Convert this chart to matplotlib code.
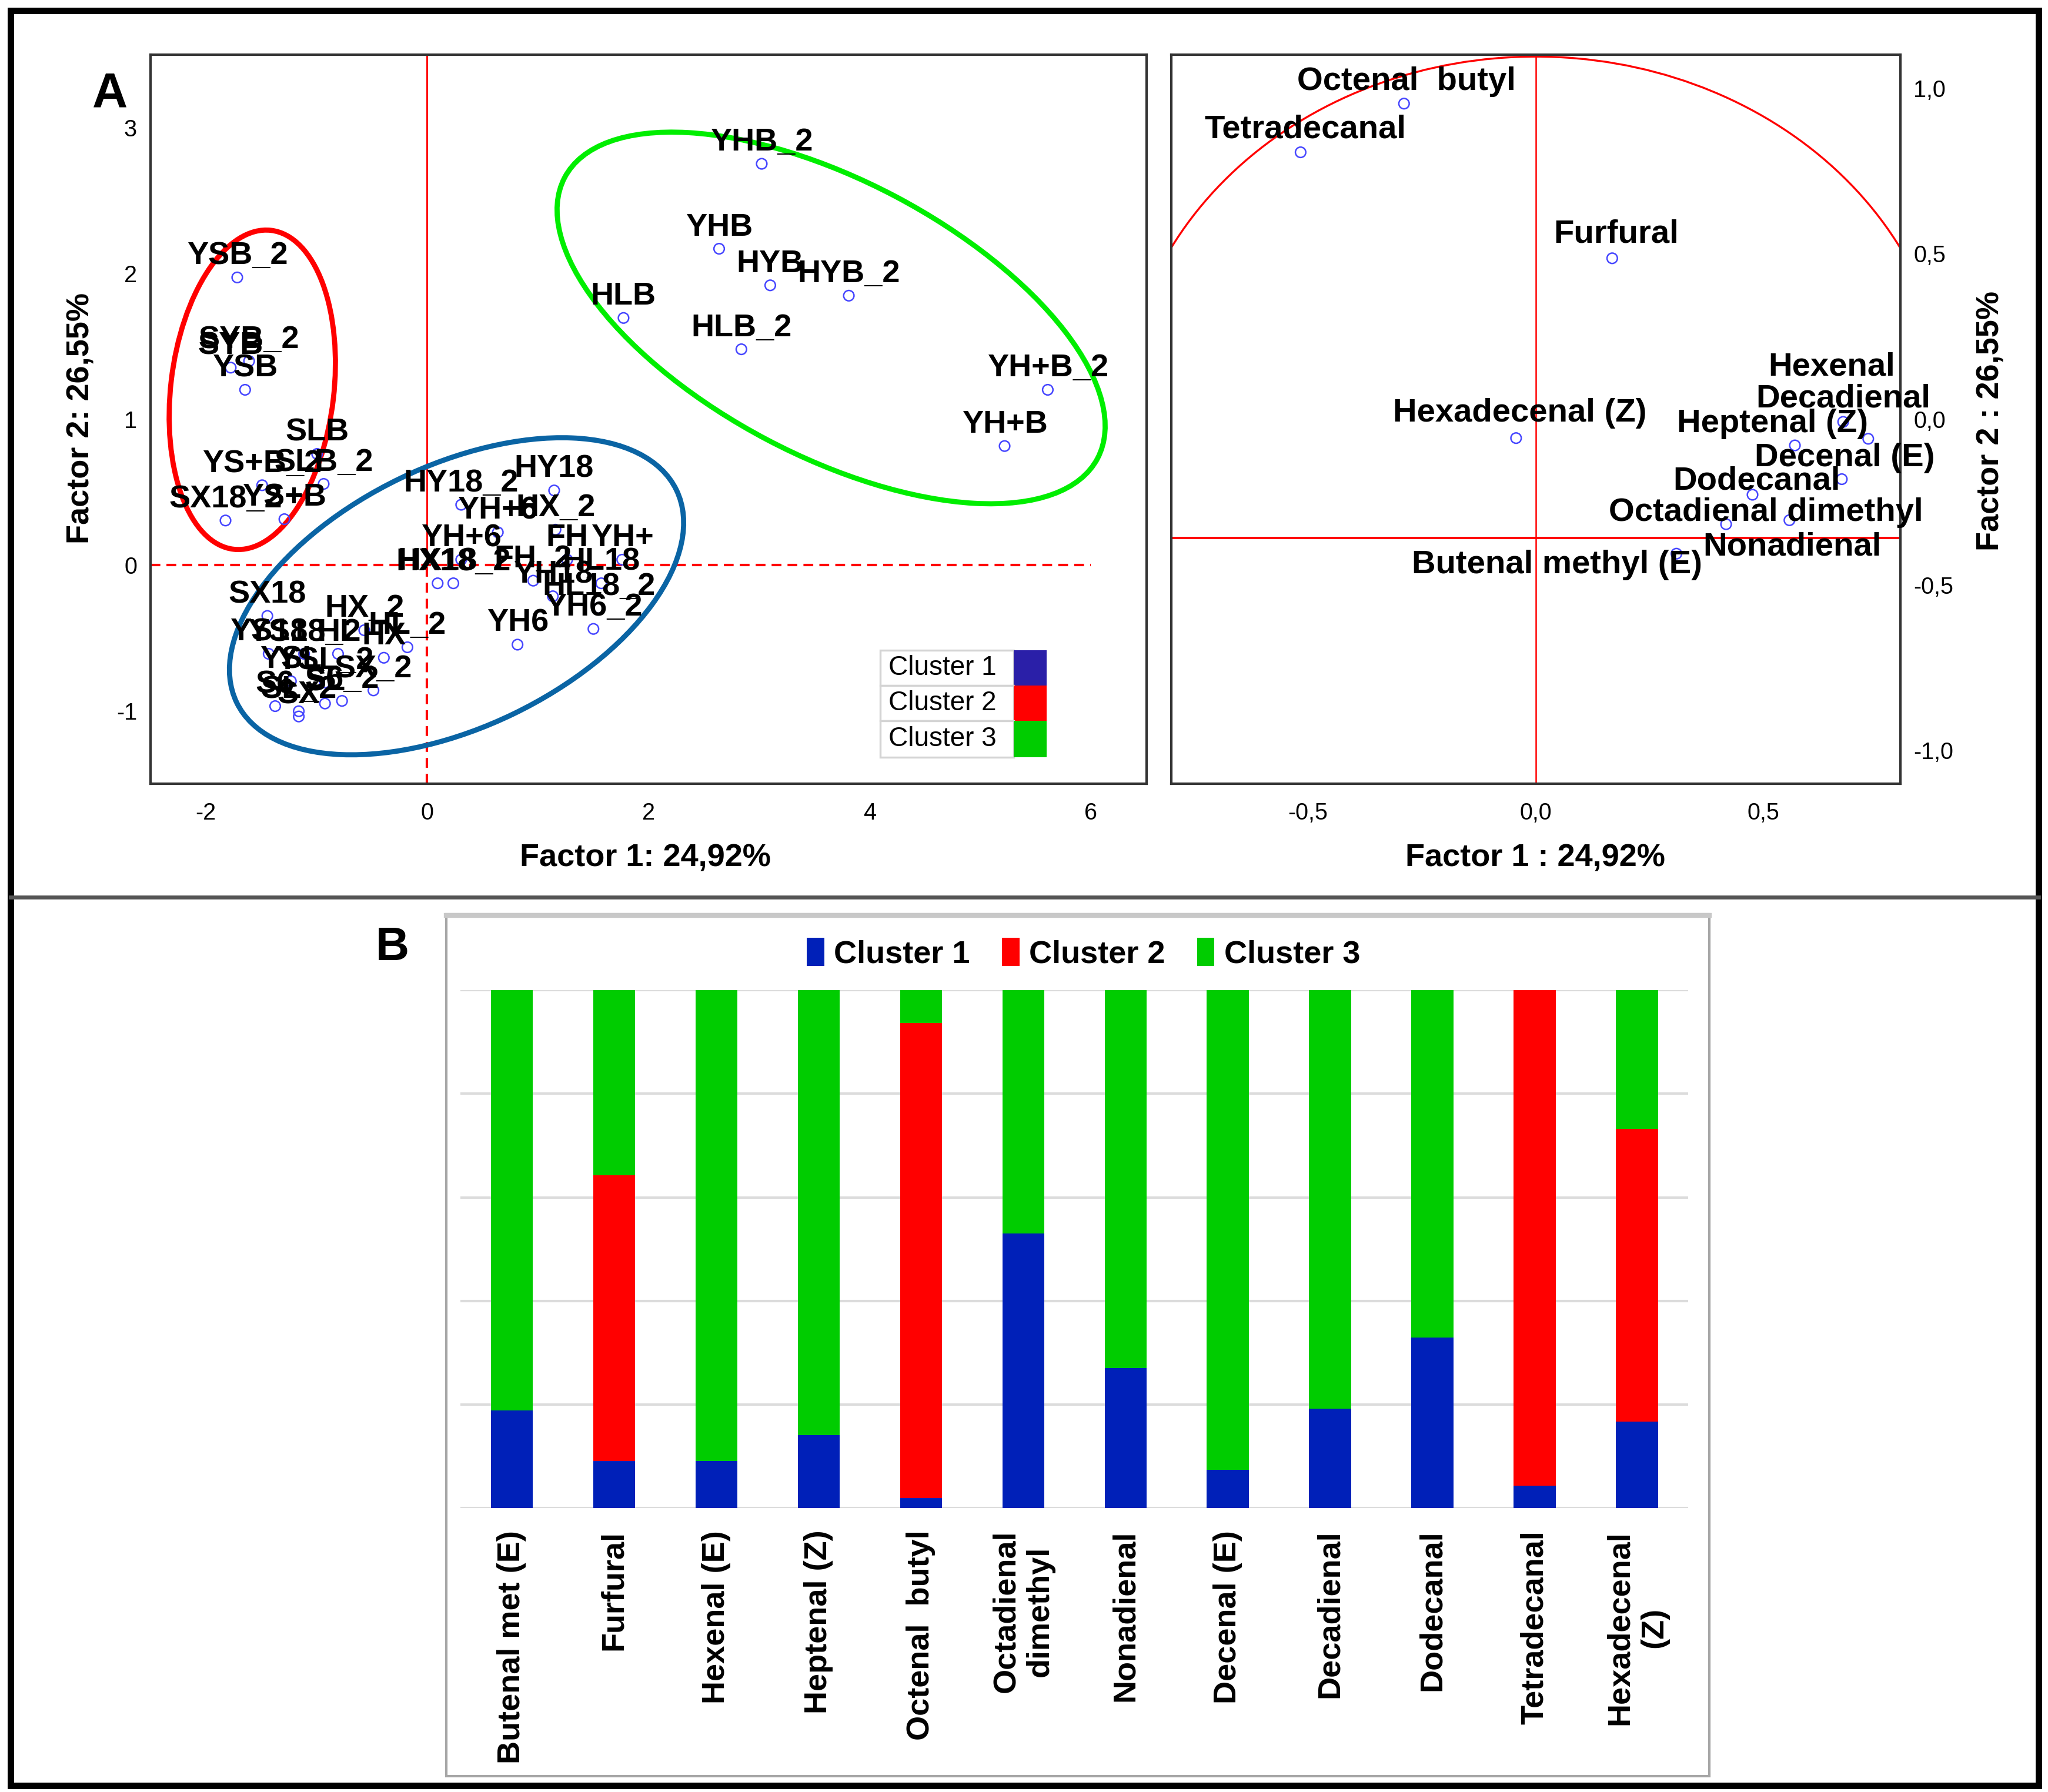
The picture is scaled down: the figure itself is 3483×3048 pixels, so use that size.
import numpy as np
import matplotlib
matplotlib.use("Agg")
import matplotlib.pyplot as plt
from matplotlib.patches import Ellipse, Rectangle, Patch, Arc
from matplotlib.transforms import Affine2D
from matplotlib.lines import Line2D

plt.rcParams['font.family'] = ['Liberation Sans', 'DejaVu Sans']
plt.rcParams['axes.unicode_minus'] = False

# ---------------- data: sample scores (panel A, left) ----------------
sample_labels = ["YHB_2", "YHB", "HYB", "HYB_2", "HLB", "HLB_2", "YH+B_2", "YH+B",
                 "YSB_2", "SYB", "SYB_2", "YSB", "SLB", "SLB_2", "YS+B_2", "SX18_2", "YS+B",
                 "HY18_2", "HY18", "YH+6", "HX_2", "YH+6", "FH", "YH+", "HX18", "HX18_2",
                 "FH_2", "HL18", "YH18", "HL18_2", "YH6_2", "YH6",
                 "SX18", "HX_2", "HL_2", "HX", "YS18", "YS18_2", "HL", "YSL", "YSL_2",
                 "SX_2", "S6", "S6_2", "SL", "SL_2", "SX"]
sample_f1 = [3.024, 2.639, 3.101, 3.811, 1.775, 2.840, 5.609, 5.219,
             -1.716, -1.775, -1.609, -1.645, -0.994, -0.935, -1.491, -1.822, -1.290,
             0.308, 1.148, 0.639, 1.160, 0.308, 1.266, 1.763, 0.095, 0.237,
             0.959, 1.574, 1.136, 1.550, 1.503, 0.817,
             -1.444, -0.568, -0.178, -0.391, -1.432, -1.112, -0.805, -1.231, -0.923,
             -0.485, -1.373, -0.769, -0.923, -1.160, -1.160]
sample_f2 = [2.753, 2.170, 1.919, 1.848, 1.695, 1.480, 1.202, 0.816,
             1.973, 1.354, 1.399, 1.202, 0.762, 0.556, 0.547, 0.305, 0.314,
             0.413, 0.511, 0.224, 0.242, 0.036, 0.036, 0.036, -0.126, -0.126,
             -0.108, -0.126, -0.215, -0.296, -0.439, -0.547,
             -0.350, -0.448, -0.565, -0.637, -0.610, -0.610, -0.610, -0.798, -0.807,
             -0.861, -0.969, -0.933, -0.951, -1.004, -1.040]

# ---------------- data: variable loadings (panel A, right) ----------------
var_labels = ["Octenal  butyl", "Tetradecanal", "Furfural", "Hexadecenal (Z)", "Hexenal",
              "Decadienal", "Heptenal (Z)", "Decenal (E)", "Dodecanal",
              "Octadienal dimethyl", "Nonadienal", "Butenal methyl (E)"]
var_f1 = [-0.289, -0.516, 0.168, -0.043, 0.730, 0.675, 0.569, 0.672, 0.476, 0.557, 0.418, 0.309]
var_f2 = [0.953, 0.806, 0.486, -0.057, -0.059, -0.008, -0.079, -0.181, -0.228, -0.305, -0.317, -0.406]
# label offsets (points) of each loading label centre from its point
var_label_dx = [1.1, 1.8, 1.7, 1.6, -15.0, 0.0, -9.1, 1.1, 1.8, -9.5, 27.0, -48.8]
var_label_dy = [10.3, 10.6, 11.2, 11.5, 30.7, 10.7, 10.1, 10.1, 6.9, 4.5, -8.0, -3.2]

# ---------------- data: cluster composition (panel B) ----------------
compounds = ["Butenal met (E)", "Furfural", "Hexenal (E)", "Heptenal (Z)", "Octenal  butyl",
             "Octadienal\ndimethyl", "Nonadienal", "Decenal (E)", "Decadienal", "Dodecanal",
             "Tetradecanal", "Hexadecenal\n(Z)"]
cluster1_pct = [18.9, 9.1, 9.1, 14.1, 1.9, 53.0, 27.0, 7.4, 19.2, 32.9, 4.3, 16.7]
cluster2_pct = [0.0, 55.2, 0.0, 0.0, 91.8, 0.0, 0.0, 0.0, 0.0, 0.0, 95.7, 56.5]
cluster3_pct = [81.1, 35.7, 90.9, 85.9, 6.3, 47.0, 73.0, 92.6, 80.8, 67.1, 0.0, 26.8]
cluster_names = ["Cluster 1", "Cluster 2", "Cluster 3"]

# ---------------- figure ----------------
W, H = 3483, 3048
DPI = 300
fig = plt.figure(figsize=(W / DPI, H / DPI), dpi=DPI)
DW, DH = 1565.0, 1370.0  # reference layout units


def fx(px):
    return px / DW


def fy(py):
    return 1 - py / DH


# outer border and separator
fig.add_artist(Rectangle((fx(8), fy(1365)), fx(1558) - fx(8), fy(8) - fy(1365),
                         transform=fig.transFigure, fill=False, ec='black', lw=2.6))
fig.add_artist(Line2D([fx(8), fx(1558)], [fy(686), fy(686)], transform=fig.transFigure,
                      color='#555555', lw=1.6))

lab_font = dict(fontsize=13, fontweight='bold')
pt_color = '#4646ff'

# ---------------- panel A left: scores ----------------
axL = fig.add_axes([fx(115), fy(599), fx(876) - fx(115), fy(42) - fy(599)])
xl, yl = (-2.5, 6.5), (-1.5, 3.5)
axL.set_xlim(*xl)
axL.set_ylim(*yl)
axL.set_xticks([-2, 0, 2, 4, 6])
axL.set_yticks([-1, 0, 1, 2, 3])
axL.tick_params(length=0, labelsize=9.5)
axL.tick_params(axis='x', pad=7.5)
axL.tick_params(axis='y', pad=5.5)
for sp in axL.spines.values():
    sp.set_color('#333333')
    sp.set_linewidth(1.0)

axL.vlines(0, 0, yl[1], color='red', lw=0.7)
axL.vlines(0, yl[0], 0, color='red', lw=1.0, linestyles=(0, (4, 2.5)))
axL.hlines(0, xl[0], 6.0, color='red', lw=1.0, linestyles=(0, (4, 2.5)))

axL.scatter(sample_f1, sample_f2, s=18, facecolors='none', edgecolors=pt_color, linewidths=0.6, zorder=3)
for lbl, x, y in zip(sample_labels, sample_f1, sample_f2):
    axL.annotate(lbl, (x, y), xytext=(0, 5.4), textcoords='offset points', ha='center',
                 va='baseline', fontsize=13, fontweight='bold', color='black', zorder=4)

# cluster ellipses, drawn in an isotropic frame so rotation looks right
axpos = axL.get_position()
px_x = axpos.width * W / (xl[1] - xl[0])
px_y = axpos.height * H / (yl[1] - yl[0])
s_iso = px_y / px_x


def cluster_ellipse(ax, cx, cy, a, b, ang, color):
    e = Ellipse((cx, cy * s_iso), 2 * a, 2 * b, angle=ang, fill=False, ec=color, lw=2.1, zorder=2)
    e.set_transform(Affine2D().scale(1, 1 / s_iso) + ax.transData)
    ax.add_patch(e)


cluster_ellipse(axL, -1.580, 1.202, 1.451, 0.737, 83.3, '#ff0000')
cluster_ellipse(axL, 0.266, -0.215, 2.207, 1.181, 25.8, '#0a64a4')
cluster_ellipse(axL, 3.651, 1.695, 2.722, 1.243, -27.8, '#00ee00')

# table-like legend
leg_colors = ['#2a1fa8', '#ff0000', '#00cc00']
x0, xt, x1 = 0.733, 0.867, 0.900
rows = [0.183, 0.1347, 0.0862, 0.0359]
for i, (nm, c) in enumerate(zip(cluster_names, leg_colors)):
    top, bot = rows[i], rows[i + 1]
    axL.add_patch(Rectangle((x0, bot), xt - x0, top - bot, transform=axL.transAxes,
                            fill=True, fc='white', ec='#d4d4d4', lw=0.8, zorder=5))
    axL.add_patch(Rectangle((xt, bot), x1 - xt, top - bot, transform=axL.transAxes,
                            fc=c, ec='none', zorder=5))
    axL.text(x0 + 0.008, (top + bot) / 2, nm, transform=axL.transAxes, ha='left', va='center',
             fontsize=11, zorder=6)

# ---------------- panel A right: loadings ----------------
axR = fig.add_axes([fx(895), fy(599), fx(1452) - fx(895), fy(42) - fy(599)])
axR.set_xlim(-0.8, 0.8)
axR.set_ylim(-1.1, 1.1)
axR.set_xticks([-0.5, 0.0, 0.5])
axR.set_xticklabels(['-0,5', '0,0', '0,5'])
axR.set_yticks([-1.0, -0.5, 0.0, 0.5, 1.0])
axR.set_yticklabels(['-1,0', '-0,5', '0,0', '0,5', '1,0'])
axR.yaxis.tick_right()
axR.tick_params(length=0, labelsize=9.5)
axR.tick_params(axis='x', pad=7.5)
axR.tick_params(axis='y', pad=5.5)
for sp in axR.spines.values():
    sp.set_color('#333333')
    sp.set_linewidth(1.0)
axR.axvline(0, color='red', lw=0.6)
axR.axhline(-0.359, color='red', lw=0.9)
axR.add_patch(Arc((0, 0), 2 * 0.908, 2 * 1.095, theta1=0, theta2=180, ec='red', lw=0.8))
axR.scatter(var_f1, var_f2, s=18, facecolors='none', edgecolors=pt_color, linewidths=0.6, zorder=3)
for lbl, x, y, dx, dy in zip(var_labels, var_f1, var_f2, var_label_dx, var_label_dy):
    axR.annotate(lbl, (x, y), xytext=(dx, dy - 4.8), textcoords='offset points', ha='center',
                 va='baseline', fontsize=13.5, fontweight='bold', annotation_clip=False, zorder=4)

# axis titles
fig.text(fx(84), fy(72), 'A', ha='center', va='center', fontsize=20, fontweight='bold')
fig.text(fx(493), fy(656), 'Factor 1: 24,92%', ha='center', va='center', **lab_font)
fig.text(fx(1173), fy(656), 'Factor 1 : 24,92%', ha='center', va='center', **lab_font)
fig.text(fx(62), fy(320), 'Factor 2: 26,55%', ha='center', va='center', rotation=90, **lab_font)
fig.text(fx(1521), fy(322), 'Factor 2 : 26,55%', ha='center', va='center', rotation=90, **lab_font)

# ---------------- panel B ----------------
fig.add_artist(Rectangle((fx(341), fy(1358)), fx(1306) - fx(341), fy(699) - fy(1358),
                         transform=fig.transFigure, fill=False, ec='#a6a6a6', lw=1.0))
fig.add_artist(Line2D([fx(341), fx(1306)], [fy(700), fy(700)], transform=fig.transFigure,
                      color='#c8c8c8', lw=2.0))
fig.text(fx(300), fy(725), 'B', ha='center', va='center', fontsize=19, fontweight='bold')

axB = fig.add_axes([fx(352), fy(1153), fx(1290) - fx(352), fy(757) - fy(1153)])
bar_colors = ['#0020b8', '#ff0000', '#00cc00']
xpos = np.arange(len(compounds))
c1 = np.array(cluster1_pct)
c2 = np.array(cluster2_pct)
c3 = np.array(cluster3_pct)
axB.bar(xpos, c1, width=0.41, color=bar_colors[0], zorder=3)
axB.bar(xpos, c2, width=0.41, bottom=c1, color=bar_colors[1], zorder=3)
axB.bar(xpos, c3, width=0.41, bottom=c1 + c2, color=bar_colors[2], zorder=3)
axB.set_xlim(-0.5, len(compounds) - 0.5)
axB.set_ylim(0, 100)
axB.set_yticks(np.arange(0, 101, 20))
axB.yaxis.grid(True, color='#dcdcdc', lw=1.0, zorder=0)
axB.tick_params(axis='y', length=0, labelleft=False)
axB.tick_params(axis='x', length=0, pad=9)
for sp in axB.spines.values():
    sp.set_visible(False)
axB.set_xticks(xpos)
axB.set_xticklabels(compounds, rotation=90, fontsize=13, fontweight='bold', ha='center', va='top',
                    multialignment='center')

handles = [Patch(facecolor=c, edgecolor='none') for c in bar_colors]
fig.legend(handles, cluster_names, loc='center', bbox_to_anchor=(fx(828), fy(729)), ncol=3,
           frameon=False, prop=dict(size=13, weight='bold'), handlelength=0.55, handleheight=1.0,
           handletextpad=0.3, columnspacing=1.0)

fig.savefig('out.png', dpi=DPI)
